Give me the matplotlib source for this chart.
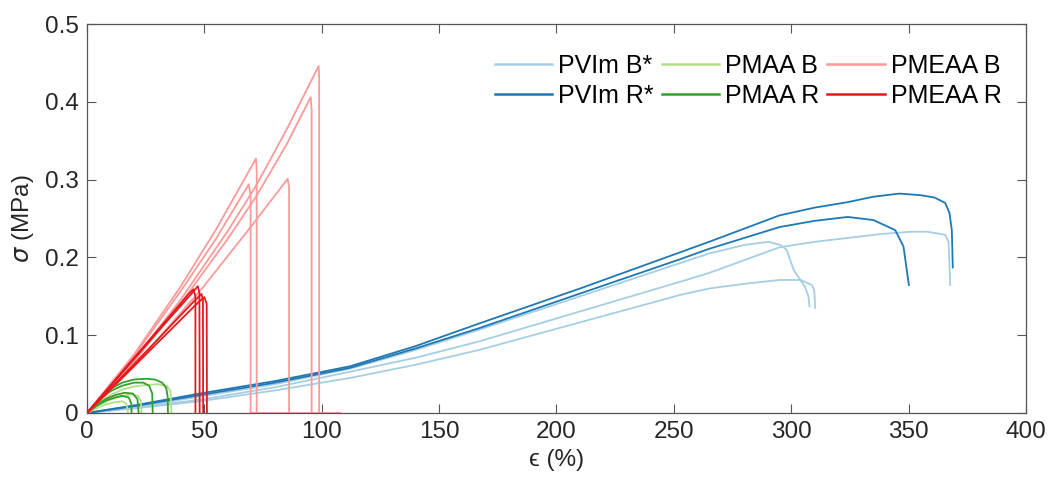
# Stress-strain curves for the PVIm / PMAA / PMEAA samples.
# Every curve is a short list of (strain, stress) points.

import numpy as np
import matplotlib.pyplot as plt

# PVIm B* (light blue) ------------------------------------------------------
pvim_b_x = [
    [0, 20.5, 48, 80, 112, 140, 167, 253, 265, 295, 310, 324, 338, 351, 358, 365.6, 367, 367.7],
    [0, 20.5, 48, 80, 112, 140, 167, 253, 265, 280, 290.3, 295.3, 298.1, 301, 305.9, 307.3, 307.8],
    [0, 20.5, 48, 80, 112, 140, 167, 253, 265, 280, 295, 304, 308.8, 309.8, 310.2],
]
pvim_b_y = [
    [0, 0.007, 0.017, 0.033, 0.053, 0.071, 0.092, 0.169, 0.180, 0.213, 0.220, 0.225, 0.230, 0.233, 0.233, 0.229, 0.220, 0.1645],
    [0, 0.008, 0.021, 0.037, 0.057, 0.081, 0.107, 0.193, 0.205, 0.216, 0.220, 0.216, 0.2095, 0.184, 0.162, 0.150, 0.137],
    [0, 0.006, 0.015, 0.029, 0.045, 0.062, 0.081, 0.152, 0.160, 0.166, 0.171, 0.171, 0.1645, 0.158, 0.135],
]

# PVIm R* (dark blue) -------------------------------------------------------
pvim_r_x = [
    [0, 20.5, 48, 80, 112, 140, 167, 210, 265, 295, 310, 324, 335, 346, 355, 361, 365.6, 367.4, 368.4, 368.8],
    [0, 20.5, 48, 80, 112, 140, 167, 253, 265, 295, 310, 324, 335, 344.3, 347.8, 350.1],
]
pvim_r_y = [
    [0, 0.010, 0.025, 0.041, 0.060, 0.086, 0.115, 0.160, 0.220, 0.254, 0.264, 0.271, 0.278, 0.282, 0.280, 0.277, 0.270, 0.257, 0.235, 0.187],
    [0, 0.009, 0.023, 0.039, 0.058, 0.083, 0.109, 0.198, 0.211, 0.239, 0.247, 0.252, 0.248, 0.235, 0.214, 0.1645],
]

# PMAA B (light green) ------------------------------------------------------
pmaa_b_x = [
    [0, 5, 10, 15, 20, 25, 30, 34, 35.6, 36.0],
    [0, 5, 10, 15, 19, 21.8, 23.0, 23.2],
    [0, 4, 8, 12, 15, 16.8, 17.5],
]
pmaa_b_y = [
    [0, 0.013, 0.023, 0.030, 0.034, 0.036, 0.037, 0.035, 0.028, 0],
    [0, 0.010, 0.017, 0.022, 0.024, 0.022, 0.015, 0],
    [0, 0.006, 0.011, 0.014, 0.015, 0.012, 0],
]

# PMAA R (dark green) -------------------------------------------------------
pmaa_r_x = [
    [0, 5, 10, 15, 20, 25, 29, 32, 33.8, 34.4, 34.5],
    [0, 5, 10, 15, 20, 24, 26.5, 27.8, 28.0],
    [0, 4, 8, 12, 16, 19.5, 21.5, 22.0],
    [0, 4, 8, 12, 15, 17.8, 18.9, 19.0],
]
pmaa_r_y = [
    [0, 0.018, 0.031, 0.039, 0.043, 0.044, 0.043, 0.039, 0.032, 0.020, 0],
    [0, 0.016, 0.028, 0.035, 0.039, 0.039, 0.035, 0.025, 0],
    [0, 0.010, 0.018, 0.023, 0.026, 0.025, 0.018, 0],
    [0, 0.009, 0.016, 0.020, 0.022, 0.020, 0.012, 0],
]

# PMEAA B (pink) ------------------------------------------------------------
pmeaa_b_x = [
    [0, 20, 40, 60, 72, 85, 98.7, 98.9, 98.9],
    [0, 20, 40, 60, 72, 85, 95.3, 95.7, 95.7],
    [0, 20, 40, 55, 72.0, 72.3, 72.3],
    [0, 20, 40, 55, 68.9, 69.7, 69.7, 108],
    [0, 20, 49, 70, 85.5, 86.1, 86.1],
]
pmeaa_b_y = [
    [0, 0.068, 0.146, 0.234, 0.292, 0.364, 0.446, 0.430, 0],
    [0, 0.066, 0.141, 0.224, 0.278, 0.345, 0.406, 0.390, 0],
    [0, 0.075, 0.163, 0.236, 0.327, 0.310, 0],
    [0, 0.073, 0.157, 0.224, 0.294, 0.280, 0, 0],
    [0, 0.060, 0.160, 0.240, 0.301, 0.290, 0],
]

# PMEAA R (red) -------------------------------------------------------------
pmeaa_r_x = [
    [0, 15, 30, 43, 45.3, 46.2, 46.2],
    [0, 15, 30, 45, 47.2, 47.9, 48.0],
    [0, 15, 30, 46, 48.8, 49.4, 49.5],
    [0, 15, 30, 47, 50.0, 51.0, 51.1],
]
pmeaa_r_y = [
    [0, 0.053, 0.106, 0.152, 0.159, 0.150, 0],
    [0, 0.052, 0.104, 0.155, 0.163, 0.155, 0],
    [0, 0.047, 0.094, 0.145, 0.153, 0.145, 0],
    [0, 0.045, 0.090, 0.141, 0.149, 0.140, 0],
]

groups = [
    ('PVIm B*', pvim_b_x, pvim_b_y, '#a6cee3'),
    ('PVIm R*', pvim_r_x, pvim_r_y, '#1f78b4'),
    ('PMAA B', pmaa_b_x, pmaa_b_y, '#b2df8a'),
    ('PMAA R', pmaa_r_x, pmaa_r_y, '#33a02c'),
    ('PMEAA B', pmeaa_b_x, pmeaa_b_y, '#fb9a99'),
    ('PMEAA R', pmeaa_r_x, pmeaa_r_y, '#e31a1c'),
]

plt.rcParams['font.family'] = ['Liberation Sans', 'DejaVu Sans']
plt.rcParams['mathtext.fontset'] = 'dejavusans'

fig = plt.figure(figsize=(10.49, 4.88), dpi=100)
ax = fig.add_axes([0.0829, 0.1537, 0.8952, 0.7971])

handles = []
for label, xs, ys, color in groups:
    for i in range(len(xs)):
        line, = ax.plot(np.array(xs[i]), np.array(ys[i]), color=color, lw=1.3,
                        solid_joinstyle='round')
        if i == 0:
            handles.append(line)

ax.set_xlim(0, 400)
ax.set_ylim(0, 0.5)
ax.set_xticks(np.arange(0, 401, 50))
ax.set_yticks(np.arange(0, 0.51, 0.1))
ax.set_yticklabels(['0', '0.1', '0.2', '0.3', '0.4', '0.5'])

# MATLAB-ish box: inward ticks on all four sides, grey frame
for s in ax.spines.values():
    s.set_color('#555555')
    s.set_linewidth(0.9)
ax.tick_params(direction='in', length=6.5, width=0.8, color='#555555',
               top=True, right=True, labelsize=17.5, labelcolor='#262626',
               pad=6)

ax.set_xlabel('\u03f5 (%)', fontsize=17.5, color='#262626', labelpad=4)
ax.set_ylabel(r'$\sigma$ (MPa)', fontsize=17.5, color='#262626', labelpad=6)

leg = ax.legend(handles, [g[0] for g in groups], ncol=3, frameon=False,
                loc='upper right', bbox_to_anchor=(0.99, 0.962),
                fontsize=18, handlelength=2.3, handletextpad=0.25,
                columnspacing=0.3, labelspacing=0.25, borderaxespad=0.2)
for h in leg.get_lines():
    h.set_linewidth(1.8)

fig.savefig('out.png', dpi=100)
